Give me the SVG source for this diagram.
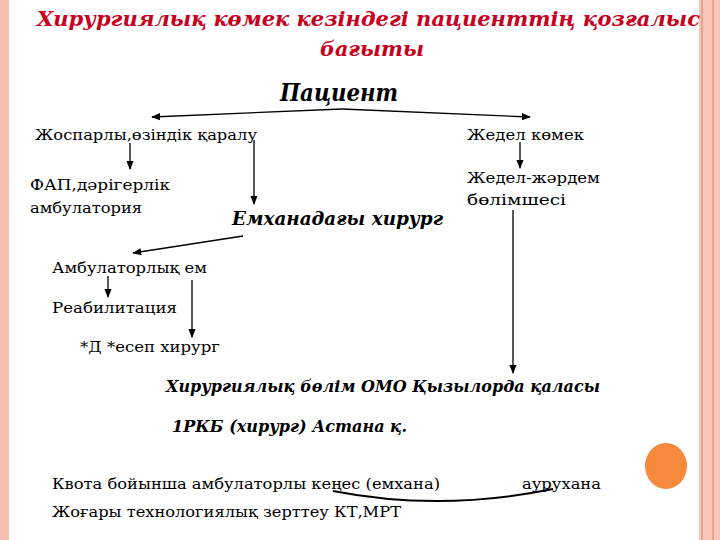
<svg xmlns="http://www.w3.org/2000/svg" width="720" height="540" viewBox="0 0 720 540">
<style>
text{lengthAdjust:spacingAndGlyphs}
.t{font-family:"DejaVu Serif","Liberation Serif",serif;font-size:15px;fill:#000}
.b{font-family:"DejaVu Serif","Liberation Serif",serif;font-weight:bold;font-style:italic;fill:#000}
.h{font-family:"DejaVu Serif","Liberation Serif",serif;font-weight:bold;font-style:italic;font-size:21px;fill:#c8001e}
.c{stroke:#000;stroke-width:1.3;fill:none;marker-end:url(#a)}
</style>
<defs><marker id="a" viewBox="0 0 10 10" refX="9" refY="5" markerWidth="7" markerHeight="7" orient="auto"><path d="M0,1 L10,5 L0,9 Z" fill="#000"/></marker></defs>
<rect width="720" height="540" fill="#fff"/>
<rect x="0" y="0" width="9" height="540" fill="#f6bfae"/>
<rect x="699" y="0" width="21" height="540" fill="#f6c6b6"/>
<line x1="702" y1="0" x2="702" y2="540" stroke="#eea08a" stroke-width="2"/>
<line x1="713" y1="0" x2="713" y2="540" stroke="#eea08a" stroke-width="2"/>
<text class="h" x="37" y="26" textLength="663" lengthAdjust="spacingAndGlyphs">Хирургиялық көмек кезіндегі пациенттің қозғалыс</text>
<text class="h" x="320" y="56" textLength="104" lengthAdjust="spacingAndGlyphs">бағыты</text>
<g id="connectors">
<path class="c" d="M342,109 L152,117"/>
<path class="c" d="M342,109 L530,117"/>
<path class="c" d="M130,143 L130,169"/>
<path class="c" d="M254,140 L254,204"/>
<path class="c" d="M520,142 L520,168"/>
<path class="c" d="M513,210 L513,373"/>
<path class="c" d="M243,236 L133,253"/>
<path class="c" d="M108,276 L108,297"/>
<path class="c" d="M192,280 L192,337"/>
<path d="M333,491 Q440,512 553,489" stroke="#000" stroke-width="2" fill="none"/>
</g>
<g id="n-patient"><text class="b" x="280" y="101" font-size="24" textLength="118" lengthAdjust="spacingAndGlyphs">Пациент</text></g>
<g id="n-planned"><text class="t" x="35" y="140" textLength="222" lengthAdjust="spacingAndGlyphs">Жоспарлы,өзіндік қаралу</text></g>
<g id="n-emergency"><text class="t" x="467" y="140" textLength="117" lengthAdjust="spacingAndGlyphs">Жедел көмек</text></g>
<g id="n-fap"><text class="t" x="30" y="190" textLength="140" lengthAdjust="spacingAndGlyphs">ФАП,дәрігерлік</text><text class="t" x="30" y="213" textLength="112" lengthAdjust="spacingAndGlyphs">амбулатория</text></g>
<g id="n-ed"><text class="t" x="467" y="183" textLength="133" lengthAdjust="spacingAndGlyphs">Жедел-жәрдем</text><text class="t" x="467" y="205" textLength="99" lengthAdjust="spacingAndGlyphs">бөлімшесі</text></g>
<g id="n-surgeon"><text class="b" x="232" y="225" font-size="18" textLength="211" lengthAdjust="spacingAndGlyphs">Емханадағы хирург</text></g>
<g id="n-amb"><text class="t" x="52" y="273" textLength="155" lengthAdjust="spacingAndGlyphs">Амбулаторлық ем</text></g>
<g id="n-rehab"><text class="t" x="52" y="313" textLength="125" lengthAdjust="spacingAndGlyphs">Реабилитация</text></g>
<g id="n-disp"><text class="t" x="80" y="352" textLength="140" lengthAdjust="spacingAndGlyphs">*Д *есеп хирург</text></g>
<g id="n-omo"><text class="b" x="166" y="392" font-size="17" textLength="434" lengthAdjust="spacingAndGlyphs">Хирургиялық бөлім ОМО Қызылорда қаласы</text></g>
<g id="n-rkb"><text class="b" x="172" y="432" font-size="17" textLength="235" lengthAdjust="spacingAndGlyphs">1РКБ (хирург) Астана қ.</text></g>
<g id="n-quota"><text class="t" x="52" y="489" textLength="388" lengthAdjust="spacingAndGlyphs">Квота бойынша амбулаторлы кеңес (емхана)</text></g>
<g id="n-hospital"><text class="t" x="522" y="489" textLength="79" lengthAdjust="spacingAndGlyphs">аурухана</text></g>
<g id="n-hightech"><text class="t" x="52" y="517" textLength="349" lengthAdjust="spacingAndGlyphs">Жоғары технологиялық зерттеу КТ,МРТ</text></g>
<ellipse cx="666" cy="466" rx="25" ry="27" fill="#fff"/>
<ellipse cx="666" cy="466" rx="21" ry="23" fill="#f58a3c"/>
</svg>
